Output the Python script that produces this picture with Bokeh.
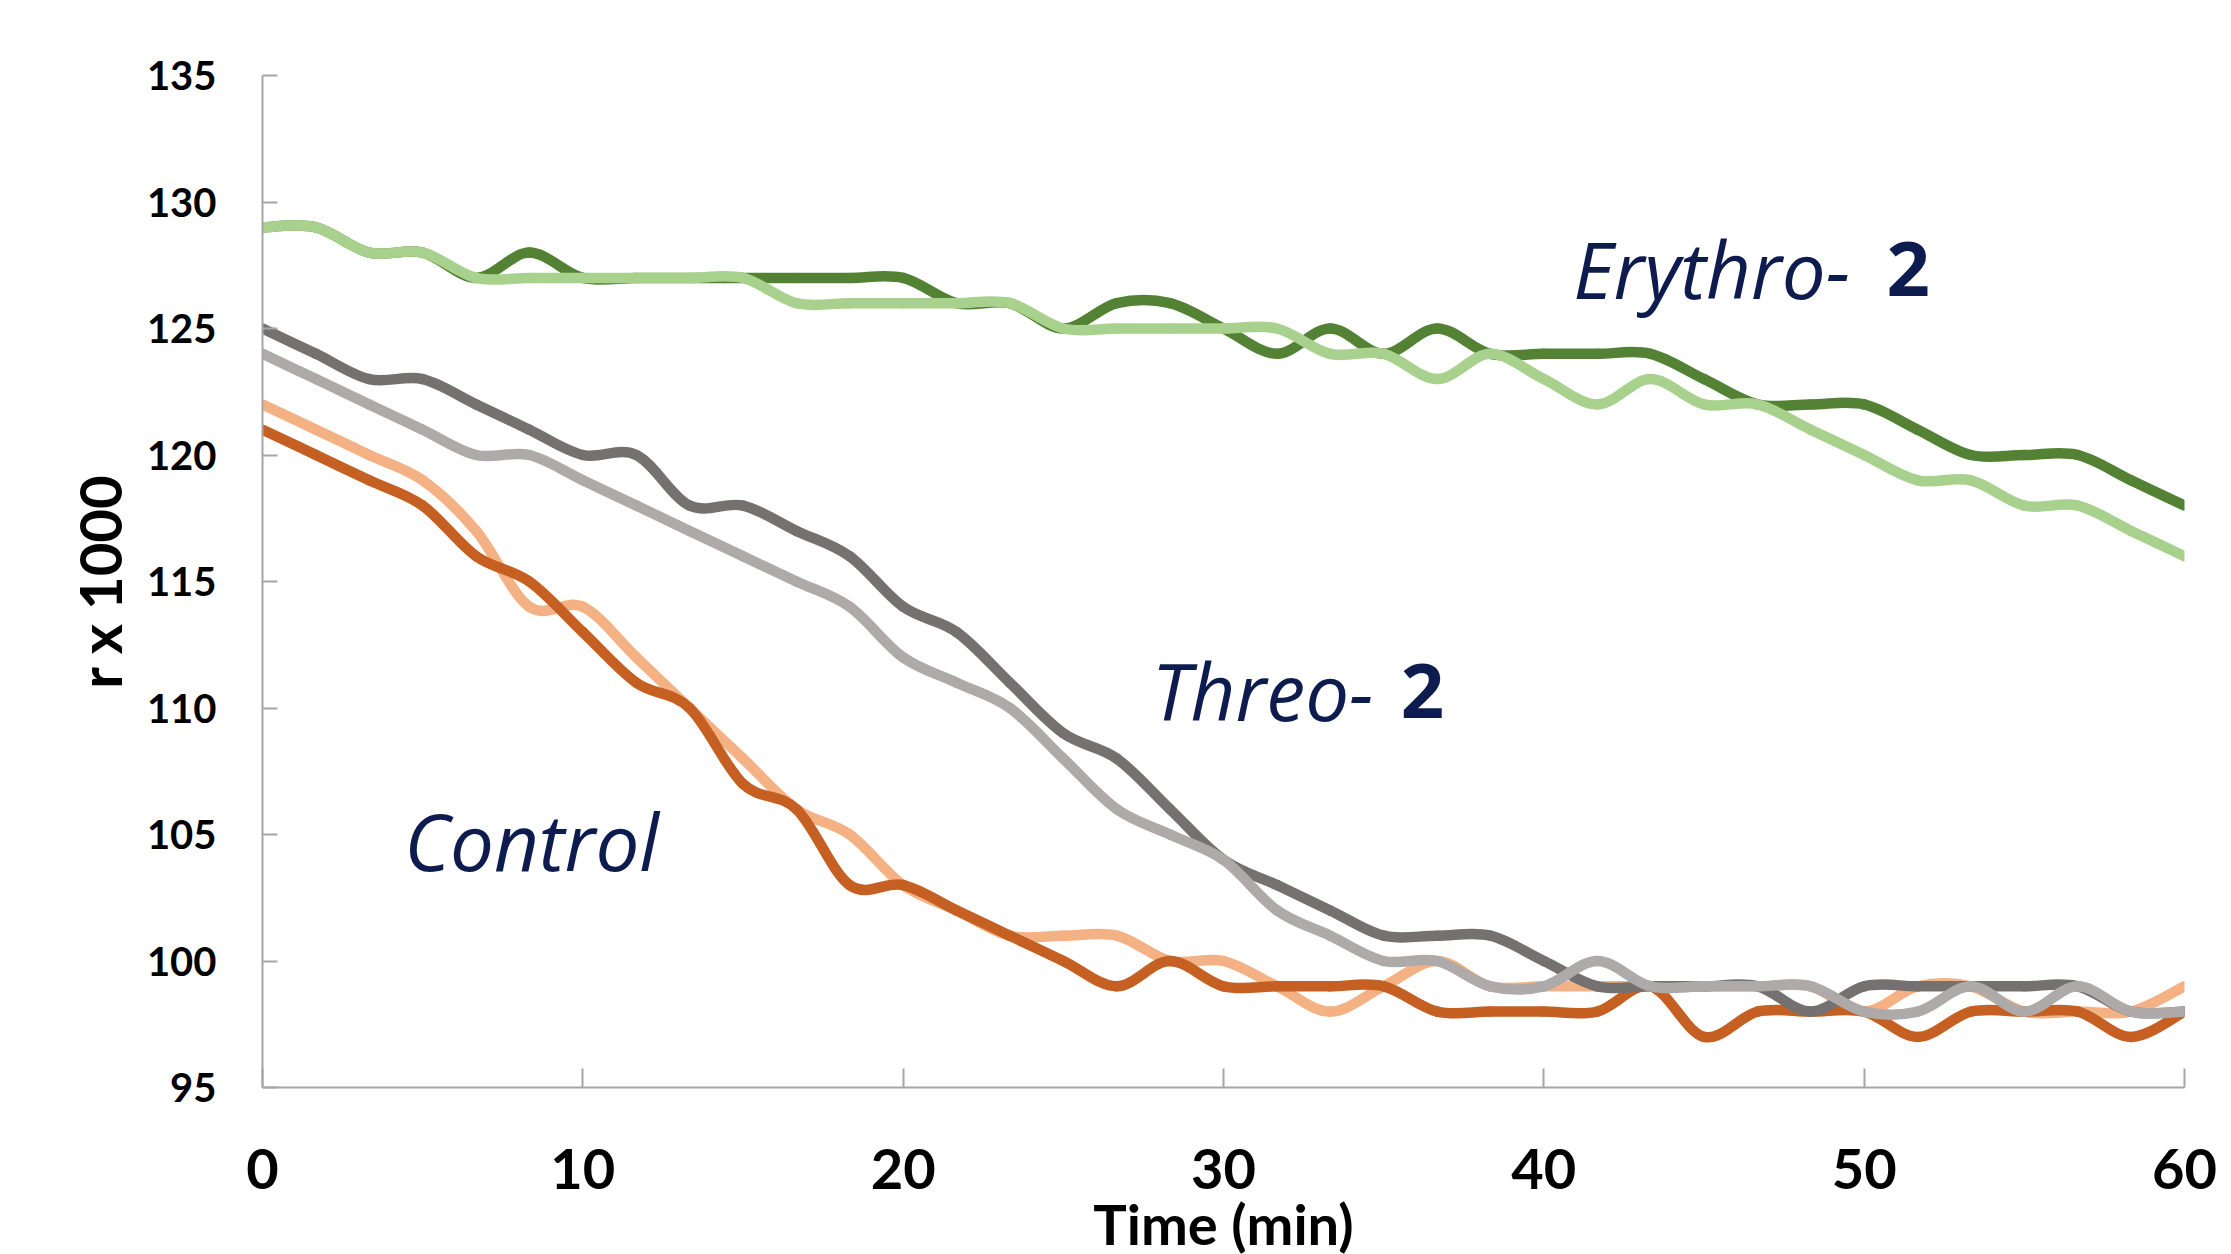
from bokeh.plotting import figure
from bokeh.models import Range1d, ColumnDataSource, Label, FixedTicker
from bokeh.embed import file_html
from bokeh.resources import INLINE

# ---- data ----
time_min = [0, 1.67, 3.33, 5, 6.67, 8.33, 10, 11.67, 13.33, 15, 16.67, 18.33,
            20, 21.67, 23.33, 25, 26.67, 28.33, 30, 31.67, 33.33, 35, 36.67,
            38.33, 40, 41.67, 43.33, 45, 46.67, 48.33, 50, 51.67, 53.33, 55,
            56.67, 58.33, 60]

control_light = [122, 121, 120, 119, 117, 114, 114, 112, 110, 108, 106, 105,
                 103, 102, 101, 101, 101, 100, 100, 99, 98, 99, 100, 99, 99,
                 99, 99, 99, 99, 99, 98, 99, 99, 98, 98, 98, 99]
control_dark = [121, 120, 119, 118, 116, 115, 113, 111, 110, 107, 106, 103,
                103, 102, 101, 100, 99, 100, 99, 99, 99, 99, 98, 98, 98, 98,
                99, 97, 98, 98, 98, 97, 98, 98, 98, 97, 98]
threo_dark = [125, 124, 123, 123, 122, 121, 120, 120, 118, 118, 117, 116,
              114, 113, 111, 109, 108, 106, 104, 103, 102, 101, 101, 101, 100,
              99, 99, 99, 99, 98, 99, 99, 99, 99, 99, 98, 98]
threo_light = [124, 123, 122, 121, 120, 120, 119, 118, 117, 116, 115, 114,
               112, 111, 110, 108, 106, 105, 104, 102, 101, 100, 100, 99, 99,
               100, 99, 99, 99, 99, 98, 98, 99, 98, 99, 98, 98]
erythro_dark = [129, 129, 128, 128, 127, 128, 127, 127, 127, 127, 127, 127,
                127, 126, 126, 125, 126, 126, 125, 124, 125, 124, 125, 124,
                124, 124, 124, 123, 122, 122, 122, 121, 120, 120, 120, 119, 118]
erythro_light = [129, 129, 128, 128, 127, 127, 127, 127, 127, 127, 126, 126,
                 126, 126, 126, 125, 125, 125, 125, 125, 124, 124, 123, 124,
                 123, 122, 123, 122, 122, 121, 120, 119, 119, 118, 118, 117, 116]

x_ticks = [0, 10, 20, 30, 40, 50, 60]
y_ticks = [95, 100, 105, 110, 115, 120, 125, 130, 135]

series = [
    (control_light, "#F4B183"),
    (control_dark, "#C55F22"),
    (threo_dark, "#767171"),
    (threo_light, "#AEAAAA"),
    (erythro_dark, "#548235"),
    (erythro_light, "#A9D18E"),
]


def smooth_segments(xs, ys):
    """Bezier control points for a smoothed line through the data points."""
    n = len(xs)
    cols = dict(x0=[], y0=[], x1=[], y1=[], cx0=[], cy0=[], cx1=[], cy1=[])
    for i in range(n - 1):
        a = i - 1 if i > 0 else i
        d = i + 2 if i + 2 < n else i + 1
        cols["x0"].append(xs[i]); cols["y0"].append(ys[i])
        cols["x1"].append(xs[i + 1]); cols["y1"].append(ys[i + 1])
        cols["cx0"].append(xs[i] + (xs[i + 1] - xs[a]) / 6.0)
        cols["cy0"].append(ys[i] + (ys[i + 1] - ys[a]) / 6.0)
        cols["cx1"].append(xs[i + 1] - (xs[d] - xs[i]) / 6.0)
        cols["cy1"].append(ys[i + 1] - (ys[d] - ys[i]) / 6.0)
    return ColumnDataSource(cols)


p = figure(frame_width=1922, frame_height=1012,
           x_range=Range1d(0, 60), y_range=Range1d(95, 135),
           output_backend="svg", toolbar_location=None,
           min_border_left=262, min_border_right=47,
           min_border_top=75, min_border_bottom=166)
p.background_fill_color = "white"
p.border_fill_color = "white"
p.outline_line_color = None
p.grid.visible = False

for vals, col in series:
    src = smooth_segments(time_min, vals)
    p.bezier(x0="x0", y0="y0", x1="x1", y1="y1", cx0="cx0", cy0="cy0",
             cx1="cx1", cy1="cy1", source=src, line_color=col,
             line_width=10.5, line_cap="round")

axis_col = "#A6A6A6"
for ax in (p.xaxis[0], p.yaxis[0]):
    ax.axis_line_color = axis_col
    ax.axis_line_width = 2
    ax.major_tick_line_color = axis_col
    ax.major_tick_line_width = 2
    ax.major_tick_out = 0
    ax.minor_tick_line_color = None
    ax.major_label_text_font = "Lato"
    ax.major_label_text_font_style = "bold"
    ax.major_label_text_color = "black"
    ax.axis_label_text_font = "Lato"
    ax.axis_label_text_font_style = "bold"
    ax.axis_label_text_color = "black"

p.xaxis.ticker = FixedTicker(ticks=x_ticks)
p.yaxis.ticker = FixedTicker(ticks=y_ticks)
p.xaxis.major_tick_in = 19
p.yaxis.major_tick_in = 15
p.xaxis.major_label_text_font_size = "56px"
p.yaxis.major_label_text_font_size = "40px"
p.xaxis.major_label_standoff = 61
p.yaxis.major_label_standoff = 46

p.yaxis.axis_label = "r x 1000"
p.yaxis.axis_label_text_font_size = "58px"
p.yaxis.axis_label_standoff = 10

p.xaxis.axis_label = "Time (min)"
p.xaxis.axis_label_text_font_size = "56px"
p.xaxis.axis_label_standoff = -2

navy = "#0D1B4E"
ann_font = "Open Sans"
for txt, xc, yb in [("Control", 8.40, 104.76),
                    ("Threo-", 31.22, 110.68),
                    ("Erythro-", 45.24, 127.36)]:
    p.add_layout(Label(x=xc, y=yb, text=txt, text_align="center",
                       text_baseline="alphabetic", text_font=ann_font,
                       text_font_style="italic", text_font_size="78px",
                       text_color=navy))
for xl, yb in [(35.53, 110.68), (50.70, 127.36)]:
    p.add_layout(Label(x=xl, y=yb, text="2", text_align="left",
                       text_baseline="alphabetic", text_font=ann_font,
                       text_font_style="bold", text_font_size="76px",
                       text_color=navy))

open("out.html", "w").write(file_html(p, INLINE))
